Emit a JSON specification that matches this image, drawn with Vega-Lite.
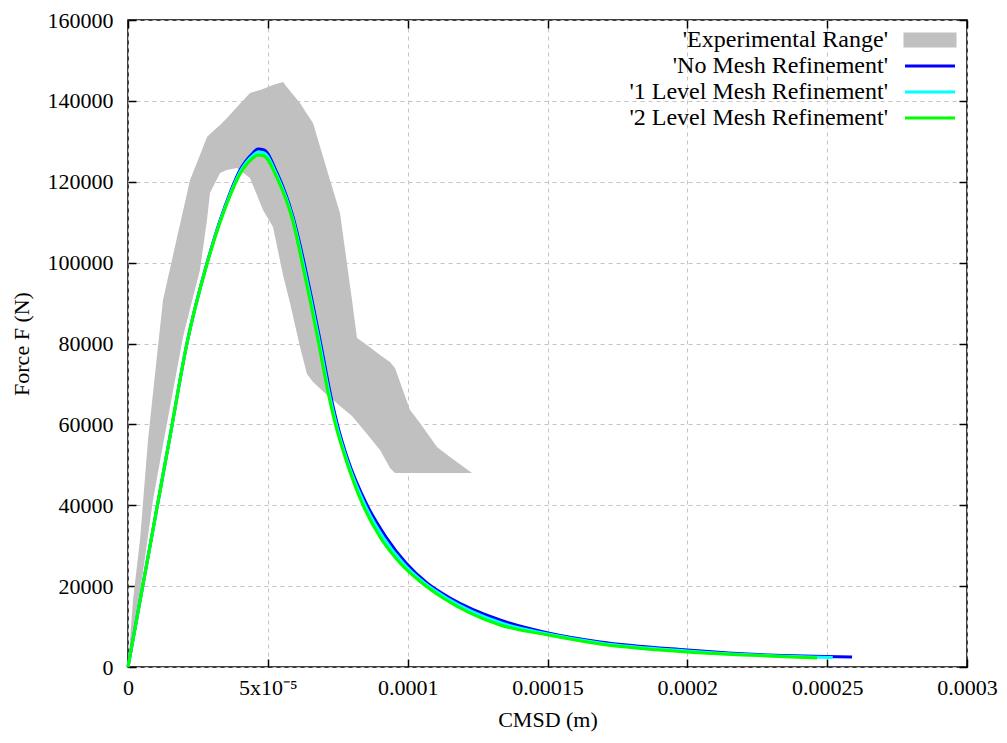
{
  "$schema": "https://vega.github.io/schema/vega-lite/v6.json",
  "autosize": "none",
  "width": 839,
  "height": 647,
  "padding": {"left": 128, "top": 20, "right": 40, "bottom": 76},
  "background": "white",
  "config": {
    "font": "Liberation Serif, Times New Roman, serif",
    "view": {"stroke": "#000000", "strokeWidth": 1.5},
    "axis": {"domain": false, "labelColor": "#000000", "titleColor": "#000000", "tickColor": "#000000", "gridColor": "#c4c4c4", "gridDash": [4, 4], "gridWidth": 1, "titleFontWeight": "normal", "labelFont": "Liberation Serif, Times New Roman, serif", "titleFont": "Liberation Serif, Times New Roman, serif"},
    "legend": {"labelFont": "Liberation Serif, Times New Roman, serif", "titleFont": "Liberation Serif, Times New Roman, serif"}
  },
  "datasets": {
    "band": [
      {"x": 0, "lo": 0, "hi": 0},
      {"x": 0.000000715, "lo": 2968, "hi": 6677},
      {"x": 0.00000179, "lo": 7419, "hi": 16569},
      {"x": 0.00000358, "lo": 14838, "hi": 27203},
      {"x": 0.00000429, "lo": 18300, "hi": 31407},
      {"x": 0.00000715, "lo": 32396, "hi": 56137},
      {"x": 0.00000894, "lo": 41299, "hi": 67760},
      {"x": 0.00001251, "lo": 54901, "hi": 90759},
      {"x": 0.00001788, "lo": 74932, "hi": 107328},
      {"x": 0.00001967, "lo": 81609, "hi": 112769},
      {"x": 0.00002217, "lo": 88533, "hi": 120435},
      {"x": 0.00002574, "lo": 98178, "hi": 126618},
      {"x": 0.00002825, "lo": 110543, "hi": 131069},
      {"x": 0.00002932, "lo": 117220, "hi": 131811},
      {"x": 0.0000329, "lo": 122166, "hi": 134037},
      {"x": 0.0000354, "lo": 122908, "hi": 135768},
      {"x": 0.00003898, "lo": 123403, "hi": 138488},
      {"x": 0.00004362, "lo": 120930, "hi": 141950},
      {"x": 0.00004827, "lo": 113016, "hi": 142939},
      {"x": 0.00005185, "lo": 108812, "hi": 143929},
      {"x": 0.00005543, "lo": 96942, "hi": 144671},
      {"x": 0.00005793, "lo": 90017, "hi": 142445},
      {"x": 0.00006151, "lo": 79136, "hi": 139477},
      {"x": 0.000064, "lo": 72459, "hi": 136757},
      {"x": 0.00006615, "lo": 70481, "hi": 134531},
      {"x": 0.00007116, "lo": 67266, "hi": 122908},
      {"x": 0.00007223, "lo": 66771, "hi": 120435},
      {"x": 0.0000758, "lo": 64545, "hi": 112274},
      {"x": 0.00008009, "lo": 62072, "hi": 90759},
      {"x": 0.00008188, "lo": 60589, "hi": 81362},
      {"x": 0.00008546, "lo": 57621, "hi": 79631},
      {"x": 0.00009011, "lo": 53664, "hi": 77158},
      {"x": 0.00009368, "lo": 49213, "hi": 75427},
      {"x": 0.00009547, "lo": 47976, "hi": 73943},
      {"x": 0.00010083, "lo": 47976, "hi": 63556},
      {"x": 0.00010441, "lo": 47976, "hi": 60341},
      {"x": 0.00011049, "lo": 47976, "hi": 54406},
      {"x": 0.00011514, "lo": 47976, "hi": 51933},
      {"x": 0.000123, "lo": 47976, "hi": 47976}
    ],
    "curves": [
      {"series": "No Mesh Refinement", "x": 0, "f": 0},
      {"series": "No Mesh Refinement", "x": 0.00001037, "f": 39450},
      {"series": "No Mesh Refinement", "x": 0.00001502, "f": 57000},
      {"series": "No Mesh Refinement", "x": 0.0000211, "f": 80125},
      {"series": "No Mesh Refinement", "x": 0.00002825, "f": 99909},
      {"series": "No Mesh Refinement", "x": 0.00003647, "f": 117220},
      {"series": "No Mesh Refinement", "x": 0.00004005, "f": 122908},
      {"series": "No Mesh Refinement", "x": 0.0000447, "f": 127112},
      {"series": "No Mesh Refinement", "x": 0.00004648, "f": 128101},
      {"series": "No Mesh Refinement", "x": 0.00004863, "f": 127854},
      {"series": "No Mesh Refinement", "x": 0.00005328, "f": 122166},
      {"series": "No Mesh Refinement", "x": 0.000059, "f": 111285},
      {"series": "No Mesh Refinement", "x": 0.00006329, "f": 98920},
      {"series": "No Mesh Refinement", "x": 0.00006579, "f": 90759},
      {"series": "No Mesh Refinement", "x": 0.00006865, "f": 80867},
      {"series": "No Mesh Refinement", "x": 0.00007259, "f": 66771},
      {"series": "No Mesh Refinement", "x": 0.00007473, "f": 60341},
      {"series": "No Mesh Refinement", "x": 0.00007866, "f": 51191},
      {"series": "No Mesh Refinement", "x": 0.0000851, "f": 40557},
      {"series": "No Mesh Refinement", "x": 0.00009225, "f": 32149},
      {"series": "No Mesh Refinement", "x": 0.0000994, "f": 25719},
      {"series": "No Mesh Refinement", "x": 0.00010691, "f": 20773},
      {"series": "No Mesh Refinement", "x": 0.00011514, "f": 17064},
      {"series": "No Mesh Refinement", "x": 0.000133, "f": 11623},
      {"series": "No Mesh Refinement", "x": 0.0001502, "f": 8408},
      {"series": "No Mesh Refinement", "x": 0.0001688, "f": 6183},
      {"series": "No Mesh Refinement", "x": 0.0001999, "f": 4204},
      {"series": "No Mesh Refinement", "x": 0.0002285, "f": 2968},
      {"series": "No Mesh Refinement", "x": 0.0002589, "f": 2473},
      {"series": "1 Level Mesh Refinement", "x": 0, "f": 0},
      {"series": "1 Level Mesh Refinement", "x": 0.00001037, "f": 39450},
      {"series": "1 Level Mesh Refinement", "x": 0.00001502, "f": 57000},
      {"series": "1 Level Mesh Refinement", "x": 0.0000211, "f": 80125},
      {"series": "1 Level Mesh Refinement", "x": 0.00002825, "f": 99785},
      {"series": "1 Level Mesh Refinement", "x": 0.00003647, "f": 116849},
      {"series": "1 Level Mesh Refinement", "x": 0.00004005, "f": 122414},
      {"series": "1 Level Mesh Refinement", "x": 0.0000447, "f": 126494},
      {"series": "1 Level Mesh Refinement", "x": 0.00004648, "f": 127360},
      {"series": "1 Level Mesh Refinement", "x": 0.00004863, "f": 127112},
      {"series": "1 Level Mesh Refinement", "x": 0.00005328, "f": 121548},
      {"series": "1 Level Mesh Refinement", "x": 0.000059, "f": 110667},
      {"series": "1 Level Mesh Refinement", "x": 0.00006311, "f": 98300},
      {"series": "1 Level Mesh Refinement", "x": 0.00006544, "f": 90759},
      {"series": "1 Level Mesh Refinement", "x": 0.0000683, "f": 80867},
      {"series": "1 Level Mesh Refinement", "x": 0.00007223, "f": 66771},
      {"series": "1 Level Mesh Refinement", "x": 0.00007438, "f": 60341},
      {"series": "1 Level Mesh Refinement", "x": 0.0000783, "f": 51191},
      {"series": "1 Level Mesh Refinement", "x": 0.00008439, "f": 40557},
      {"series": "1 Level Mesh Refinement", "x": 0.00009118, "f": 32149},
      {"series": "1 Level Mesh Refinement", "x": 0.00009833, "f": 25719},
      {"series": "1 Level Mesh Refinement", "x": 0.000106, "f": 20773},
      {"series": "1 Level Mesh Refinement", "x": 0.0001139, "f": 17064},
      {"series": "1 Level Mesh Refinement", "x": 0.000133, "f": 11000},
      {"series": "1 Level Mesh Refinement", "x": 0.0001502, "f": 8160},
      {"series": "1 Level Mesh Refinement", "x": 0.0001688, "f": 5935},
      {"series": "1 Level Mesh Refinement", "x": 0.0001999, "f": 3957},
      {"series": "1 Level Mesh Refinement", "x": 0.0002285, "f": 2844},
      {"series": "1 Level Mesh Refinement", "x": 0.000252, "f": 2350},
      {"series": "2 Level Mesh Refinement", "x": 0, "f": 0},
      {"series": "2 Level Mesh Refinement", "x": 0.00001037, "f": 39450},
      {"series": "2 Level Mesh Refinement", "x": 0.00001502, "f": 57000},
      {"series": "2 Level Mesh Refinement", "x": 0.0000211, "f": 80125},
      {"series": "2 Level Mesh Refinement", "x": 0.00002825, "f": 99662},
      {"series": "2 Level Mesh Refinement", "x": 0.00003647, "f": 116478},
      {"series": "2 Level Mesh Refinement", "x": 0.00004005, "f": 121919},
      {"series": "2 Level Mesh Refinement", "x": 0.0000447, "f": 125876},
      {"series": "2 Level Mesh Refinement", "x": 0.00004648, "f": 126618},
      {"series": "2 Level Mesh Refinement", "x": 0.00004863, "f": 126371},
      {"series": "2 Level Mesh Refinement", "x": 0.00005328, "f": 120930},
      {"series": "2 Level Mesh Refinement", "x": 0.000059, "f": 110049},
      {"series": "2 Level Mesh Refinement", "x": 0.00006293, "f": 97684},
      {"series": "2 Level Mesh Refinement", "x": 0.00006508, "f": 90759},
      {"series": "2 Level Mesh Refinement", "x": 0.00006794, "f": 80867},
      {"series": "2 Level Mesh Refinement", "x": 0.00007187, "f": 66771},
      {"series": "2 Level Mesh Refinement", "x": 0.00007402, "f": 60341},
      {"series": "2 Level Mesh Refinement", "x": 0.00007795, "f": 51191},
      {"series": "2 Level Mesh Refinement", "x": 0.00008367, "f": 40557},
      {"series": "2 Level Mesh Refinement", "x": 0.00009011, "f": 32149},
      {"series": "2 Level Mesh Refinement", "x": 0.00009726, "f": 25719},
      {"series": "2 Level Mesh Refinement", "x": 0.00010512, "f": 20773},
      {"series": "2 Level Mesh Refinement", "x": 0.00011263, "f": 17064},
      {"series": "2 Level Mesh Refinement", "x": 0.000133, "f": 10387},
      {"series": "2 Level Mesh Refinement", "x": 0.0001502, "f": 7914},
      {"series": "2 Level Mesh Refinement", "x": 0.0001688, "f": 5688},
      {"series": "2 Level Mesh Refinement", "x": 0.0001999, "f": 3710},
      {"series": "2 Level Mesh Refinement", "x": 0.0002285, "f": 2720},
      {"series": "2 Level Mesh Refinement", "x": 0.0002464, "f": 2226}
    ]
  },
  "layer": [
    {
      "data": {"name": "band"},
      "mark": {"type": "area", "opacity": 1},
      "encoding": {
        "x": {
          "field": "x", "type": "quantitative",
          "scale": {"domain": [0, 0.0003], "nice": false, "zero": false},
          "axis": {
            "orient": "bottom",
            "title": "CMSD (m)", "titleFontSize": 22, "titlePadding": 11,
            "values": [0, 0.00005, 0.0001, 0.00015, 0.0002, 0.00025, 0.0003],
            "labelExpr": "datum.value == 0 ? '0' : (abs(datum.value - 0.00005) < 1e-9 ? '5x10⁻⁵' : format(datum.value, '~r'))",
            "labelFontSize": 22, "labelPadding": 18, "tickSize": -8, "tickWidth": 1.5,
            "grid": true, "labelFlush": false, "labelOverlap": false
          }
        },
        "y": {
          "field": "lo", "type": "quantitative",
          "scale": {"domain": [0, 160000], "nice": false},
          "axis": {
            "orient": "left",
            "title": "Force F (N)", "titleFontSize": 22, "titlePadding": 14,
            "values": [0, 20000, 40000, 60000, 80000, 100000, 120000, 140000, 160000],
            "format": "d",
            "labelFontSize": 22, "labelPadding": 23, "tickSize": -8, "tickWidth": 1.5,
            "grid": true, "labelFlush": false, "labelOverlap": false
          }
        },
        "y2": {"field": "hi"},
        "color": {
          "datum": "Experimental Range",
          "type": "nominal",
          "scale": {
            "domain": ["Experimental Range", "No Mesh Refinement", "1 Level Mesh Refinement", "2 Level Mesh Refinement"],
            "range": ["#c0c0c0", "#0000ff", "#00ffff", "#00ff00"]
          },
          "legend": {
            "title": null,
            "orient": "none",
            "legendX": 790,
            "legendY": 8,
            "padding": 0,
            "labelExpr": "\"'\" + datum.label + \"'\"",
            "labelAlign": "right",
            "labelOffset": -54,
            "labelFontSize": 24,
            "labelColor": "#000000",
            "labelLimit": 400,
            "symbolSize": 100,
            "symbolType": "M-5,-1.2H5V1.2H-5Z",
            "rowPadding": 2,
            "encode": {
              "symbols": {
                "update": {
                  "shape": {"signal": "datum.value === 'Experimental Range' ? 'M-5,-1.2H5V1.2H-5Z' : 'M-5,0H5'"},
                  "fill": {"signal": "datum.value === 'Experimental Range' ? '#c0c0c0' : 'transparent'"},
                  "stroke": {"signal": "datum.value === 'Experimental Range' ? 'transparent' : scale('color', datum.value)"},
                  "strokeWidth": {"value": 3},
                  "opacity": {"value": 1}
                }
              }
            }
          }
        }
      }
    },
    {
      "data": {"name": "curves"},
      "mark": {"type": "line", "strokeWidth": 3, "interpolate": "monotone"},
      "encoding": {
        "x": {
          "field": "x", "type": "quantitative",
          "axis": {"orient": "top", "title": null, "labels": false, "grid": false, "tickSize": -8, "tickWidth": 1.5,
                   "values": [0, 0.00005, 0.0001, 0.00015, 0.0002, 0.00025, 0.0003]}
        },
        "y": {
          "field": "f", "type": "quantitative",
          "axis": {"orient": "right", "title": null, "labels": false, "grid": false, "tickSize": -8, "tickWidth": 1.5,
                   "values": [0, 20000, 40000, 60000, 80000, 100000, 120000, 140000, 160000]}
        },
        "color": {
          "field": "series", "type": "nominal",
          "legend": {
            "title": null,
            "orient": "none",
            "legendX": 790,
            "legendY": 8,
            "padding": 0,
            "labelExpr": "\"'\" + datum.label + \"'\"",
            "labelAlign": "right",
            "labelOffset": -54,
            "labelFontSize": 24,
            "labelColor": "#000000",
            "labelLimit": 400,
            "symbolSize": 100,
            "symbolType": "M-5,-1.2H5V1.2H-5Z",
            "rowPadding": 2,
            "encode": {
              "symbols": {
                "update": {
                  "shape": {"signal": "datum.value === 'Experimental Range' ? 'M-5,-1.2H5V1.2H-5Z' : 'M-5,0H5'"},
                  "fill": {"signal": "datum.value === 'Experimental Range' ? '#c0c0c0' : 'transparent'"},
                  "stroke": {"signal": "datum.value === 'Experimental Range' ? 'transparent' : scale('color', datum.value)"},
                  "strokeWidth": {"value": 3},
                  "opacity": {"value": 1}
                }
              }
            }
          }
        }
      }
    }
  ],
  "resolve": {"axis": {"x": "independent", "y": "independent"}}
}
